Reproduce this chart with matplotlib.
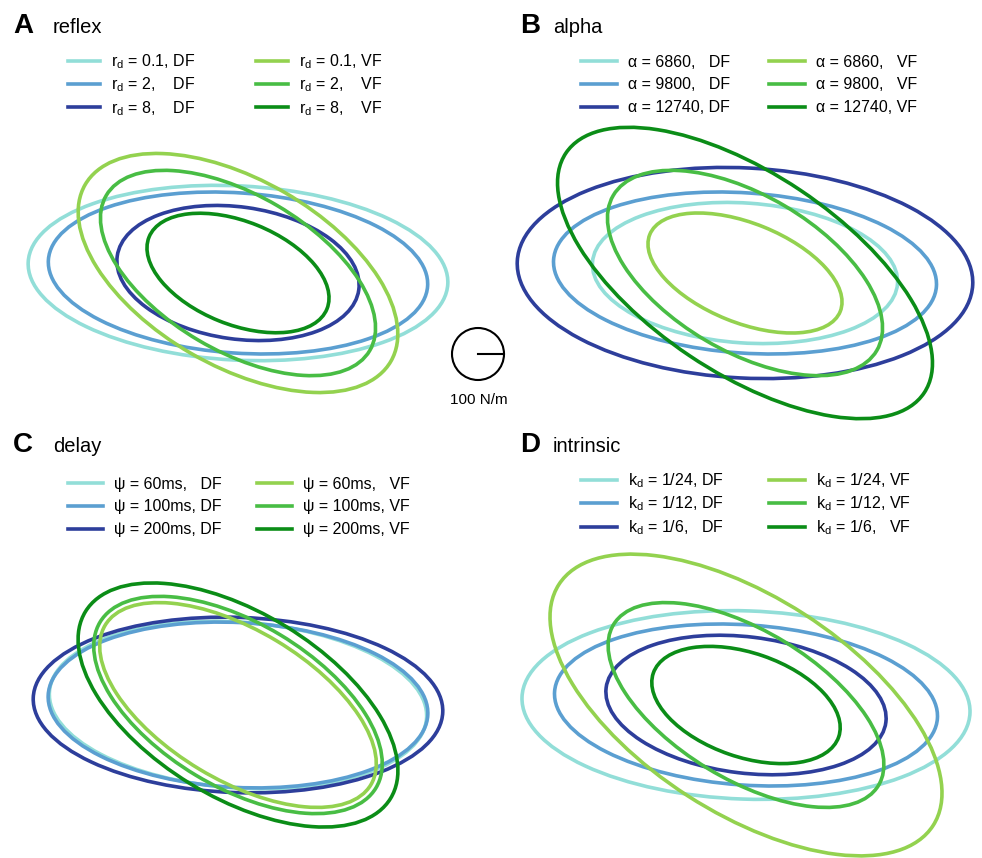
"""
Stiffness ellipses for the four parameter sweeps (reflex, alpha, delay,
intrinsic), divergent field (DF) vs velocity-dependent field (VF).
"""
import matplotlib.pyplot as plt
from matplotlib.patches import Ellipse, Circle
from matplotlib.lines import Line2D

plt.rcParams['font.family'] = ['Liberation Sans', 'DejaVu Sans']
plt.rcParams['mathtext.fontset'] = 'custom'
plt.rcParams['mathtext.rm'] = 'Liberation Sans'
plt.rcParams['mathtext.it'] = 'Liberation Sans:italic'

W, H, DPI = 982, 858, 100
PX_PER_NM = 0.26  # the 100 N/m scale circle is ~26 px in radius

COLORS = ['#92ded8', '#5b9fd1', '#2d3e9b', '#93d24f', '#48bd44', '#0b8d17']

# --- data: semi-axes (N/m) and orientation (deg) of each ellipse -------------
# order in every panel: DF low, DF mid, DF high, VF low, VF mid, VF high
reflex_labels = ['r$_\\mathrm{d}$ = 0.1, DF', 'r$_\\mathrm{d}$ = 2,    DF',
                 'r$_\\mathrm{d}$ = 8,    DF', 'r$_\\mathrm{d}$ = 0.1, VF',
                 'r$_\\mathrm{d}$ = 2,    VF', 'r$_\\mathrm{d}$ = 8,    VF']
reflex_major = [808, 731, 469, 679, 588, 369]
reflex_minor = [335, 308, 254, 358, 300, 198]
reflex_angle = [-3, -4, -8, -30, -30.5, -22]

alpha_labels = ['\u03b1 = 6860,   DF', '\u03b1 = 9800,   DF', '\u03b1 = 12740, DF',
                '\u03b1 = 6860,   VF', '\u03b1 = 9800,   VF', '\u03b1 = 12740, VF']
alpha_major = [588, 738, 877, 395, 588, 829]
alpha_minor = [269, 308, 404, 191, 300, 383]
alpha_angle = [-4, -4, -3, -22, -30.5, -33.8]

delay_labels = ['\u03c8 = 60ms,   DF', '\u03c8 = 100ms, DF', '\u03c8 = 200ms, DF',
                '\u03c8 = 60ms,   VF', '\u03c8 = 100ms, VF', '\u03c8 = 200ms, VF']
delay_major = [727, 731, 788, 596, 619, 688]
delay_minor = [319, 317, 337, 288, 315, 354]
delay_angle = [-4, -3, -2, -31, -31, -31.5]

intrinsic_labels = ['k$_\\mathrm{d}$ = 1/24, DF', 'k$_\\mathrm{d}$ = 1/12, DF',
                    'k$_\\mathrm{d}$ = 1/6,   DF', 'k$_\\mathrm{d}$ = 1/24, VF',
                    'k$_\\mathrm{d}$ = 1/12, VF', 'k$_\\mathrm{d}$ = 1/6,   VF']
intrinsic_major = [862, 738, 542, 856, 596, 377]
intrinsic_minor = [362, 308, 262, 415, 285, 200]
intrinsic_angle = [-2, -4, -7, -32.8, -31.3, -19]

SCALE_NM = 100

# --- layout (pixels) ---------------------------------------------------------
panels = [
    # letter, title, labels, major, minor, angle, centre, legend columns x,
    # legend middle-row y, title baseline, (letter x, title x),
    # handle length px, legend label spacing
    ('A', 'reflex', reflex_labels, reflex_major, reflex_minor, reflex_angle,
     (238, 273), (68, 256), 85, 33, (13, 53), 32, 0.28),
    ('B', 'alpha', alpha_labels, alpha_major, alpha_minor, alpha_angle,
     (745, 273), (581, 769), 85, 33, (520, 553), 36, 0.48),
    ('C', 'delay', delay_labels, delay_major, delay_minor, delay_angle,
     (238, 705), (68, 257), 507, 452, (13, 53), 35, 0.48),
    ('D', 'intrinsic', intrinsic_labels, intrinsic_major, intrinsic_minor,
     intrinsic_angle, (746, 705), (581, 769), 504, 452, (520, 553), 36, 0.3),
]

fig = plt.figure(figsize=(W / DPI, H / DPI), dpi=DPI)


def fx(px):
    return px / W


def fy(py):
    return 1 - py / H


def panel_axes(cx, cy, hw, hh):
    ax = fig.add_axes([fx(cx - hw), fy(cy + hh), 2 * hw / W, 2 * hh / H])
    ax.set_xlim(-hw / PX_PER_NM, hw / PX_PER_NM)
    ax.set_ylim(-hh / PX_PER_NM, hh / PX_PER_NM)
    ax.set_aspect('equal')
    ax.axis('off')
    return ax


LW = 2.6
LEG_FS = 11.5
for (letter, title, labels, major, minor, angle, (cx, cy),
     leg_x, leg_y, base_y, (lx, tx), hlen, lspace) in panels:
    ax = panel_axes(cx, cy, 250, 175)
    for i in range(6):
        ax.add_patch(Ellipse((0, 0), 2 * major[i], 2 * minor[i], angle=angle[i],
                             fill=False, edgecolor=COLORS[i], lw=LW,
                             clip_on=False))

    fig.text(fx(lx), fy(base_y), letter, fontsize=20, fontweight='bold',
             va='baseline', ha='left')
    fig.text(fx(tx), fy(base_y), title, fontsize=14.5, va='baseline', ha='left')

    fs_px = LEG_FS * DPI / 72
    for col in range(2):
        handles = [Line2D([], [], color=COLORS[3 * col + k], lw=LW)
                   for k in range(3)]
        fig.legend(handles, labels[3 * col:3 * col + 3],
                   loc='center left',
                   bbox_to_anchor=(fx(leg_x[col]), fy(leg_y)),
                   bbox_transform=fig.transFigure,
                   frameon=False, fontsize=LEG_FS, borderpad=0,
                   borderaxespad=0, handlelength=hlen / fs_px,
                   handletextpad=0.7, labelspacing=lspace)

# scale circle
sx, sy = 478, 354
sax = panel_axes(sx, sy, 40, 40)
sax.add_patch(Circle((0, 0), SCALE_NM, fill=False, edgecolor='black', lw=1.5))
sax.plot([0, SCALE_NM], [0, 0], color='black', lw=1.5)
fig.text(fx(479), fy(400), '%d N/m' % SCALE_NM, fontsize=11,
         ha='center', va='center')

fig.savefig('out.png', dpi=DPI)
